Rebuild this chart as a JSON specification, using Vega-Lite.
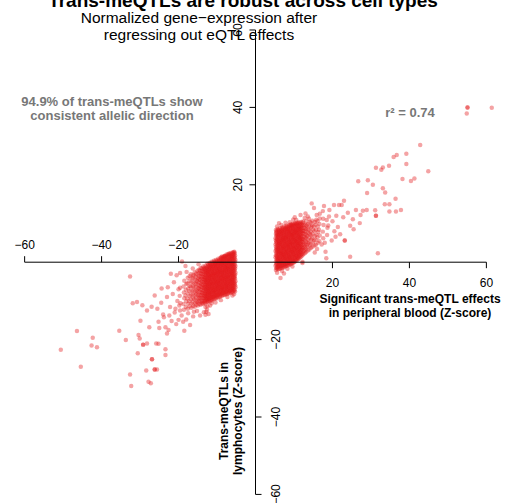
{
  "$schema": "https://vega.github.io/schema/vega-lite/v6.json",
  "width": 505,
  "height": 503,
  "padding": 0,
  "autosize": {"type": "none"},
  "background": "white",
  "config": {"view": {"stroke": null}, "text": {"font": "Liberation Sans", "color": "black"}},
  "datasets": {
    "meqtl": [
      {"pb":5.3,"ly":-2.0},{"pb":5.4,"ly":-1.5},{"pb":5.2,"ly":-0.9},{"pb":5.4,"ly":-0.4},{"pb":5.3,"ly":0.2},{"pb":5.5,"ly":0.7},{"pb":5.2,"ly":1.3},{"pb":5.3,"ly":1.8},{"pb":5.4,"ly":2.4},{"pb":5.2,"ly":2.9},{"pb":5.4,"ly":3.5},{"pb":5.3,"ly":4.0},{"pb":5.2,"ly":4.6},{"pb":5.4,"ly":5.1},{"pb":5.3,"ly":5.7},{"pb":5.2,"ly":6.2},{"pb":5.4,"ly":6.8},{"pb":5.3,"ly":7.3},{"pb":5.4,"ly":7.9},{"pb":5.3,"ly":8.3},
      {"pb":5.9,"ly":-1.8},{"pb":5.8,"ly":-1.2},{"pb":5.9,"ly":-0.7},{"pb":6.0,"ly":-0.1},{"pb":5.8,"ly":0.4},{"pb":5.9,"ly":1.0},{"pb":5.7,"ly":1.5},{"pb":5.9,"ly":2.1},{"pb":6.0,"ly":2.6},{"pb":5.8,"ly":3.2},{"pb":5.9,"ly":3.7},{"pb":5.8,"ly":4.3},{"pb":6.0,"ly":4.8},{"pb":5.9,"ly":5.4},{"pb":5.7,"ly":5.9},{"pb":5.9,"ly":6.5},{"pb":5.8,"ly":7.0},{"pb":6.0,"ly":7.6},{"pb":5.9,"ly":8.1},{"pb":5.8,"ly":8.6},
      {"pb":6.4,"ly":-1.7},{"pb":6.5,"ly":-1.1},{"pb":6.3,"ly":-0.6},{"pb":6.4,"ly":0.0},{"pb":6.5,"ly":0.5},{"pb":6.3,"ly":1.1},{"pb":6.4,"ly":1.6},{"pb":6.6,"ly":2.2},{"pb":6.4,"ly":2.7},{"pb":6.3,"ly":3.3},{"pb":6.5,"ly":3.8},{"pb":6.4,"ly":4.4},{"pb":6.3,"ly":4.9},{"pb":6.5,"ly":5.5},{"pb":6.4,"ly":6.0},{"pb":6.6,"ly":6.6},{"pb":6.3,"ly":7.1},{"pb":6.4,"ly":7.7},{"pb":6.5,"ly":8.2},{"pb":6.4,"ly":8.8},
      {"pb":7.0,"ly":-1.5},{"pb":6.9,"ly":-0.9},{"pb":7.0,"ly":-0.4},{"pb":6.8,"ly":0.2},{"pb":7.0,"ly":0.7},{"pb":7.1,"ly":1.3},{"pb":6.9,"ly":1.8},{"pb":7.0,"ly":2.4},{"pb":6.8,"ly":2.9},{"pb":7.0,"ly":3.5},{"pb":7.1,"ly":4.0},{"pb":6.9,"ly":4.6},{"pb":7.0,"ly":5.1},{"pb":6.9,"ly":5.7},{"pb":7.1,"ly":6.2},{"pb":7.0,"ly":6.8},{"pb":6.8,"ly":7.3},{"pb":7.0,"ly":7.9},{"pb":6.9,"ly":8.4},{"pb":7.0,"ly":9.0},
      {"pb":7.5,"ly":-1.3},{"pb":7.6,"ly":-0.7},{"pb":7.4,"ly":-0.2},{"pb":7.5,"ly":0.4},{"pb":7.6,"ly":0.9},{"pb":7.5,"ly":1.5},{"pb":7.4,"ly":2.0},{"pb":7.6,"ly":2.6},{"pb":7.5,"ly":3.1},{"pb":7.4,"ly":3.7},{"pb":7.5,"ly":4.2},{"pb":7.6,"ly":4.8},{"pb":7.5,"ly":5.3},{"pb":7.4,"ly":5.9},{"pb":7.6,"ly":6.4},{"pb":7.5,"ly":7.0},{"pb":7.4,"ly":7.5},{"pb":7.5,"ly":8.1},{"pb":7.6,"ly":8.6},{"pb":7.5,"ly":9.2},
      {"pb":8.0,"ly":-1.0},{"pb":8.1,"ly":-0.4},{"pb":8.0,"ly":0.1},{"pb":8.2,"ly":0.7},{"pb":8.0,"ly":1.2},{"pb":8.1,"ly":1.8},{"pb":7.9,"ly":2.3},{"pb":8.1,"ly":2.9},{"pb":8.0,"ly":3.4},{"pb":8.2,"ly":4.0},{"pb":8.0,"ly":4.5},{"pb":8.1,"ly":5.1},{"pb":8.0,"ly":5.6},{"pb":7.9,"ly":6.2},{"pb":8.1,"ly":6.7},{"pb":8.0,"ly":7.3},{"pb":8.2,"ly":7.8},{"pb":8.0,"ly":8.4},{"pb":8.1,"ly":8.9},{"pb":8.0,"ly":9.4},
      {"pb":8.6,"ly":-0.8},{"pb":8.7,"ly":-0.2},{"pb":8.5,"ly":0.3},{"pb":8.6,"ly":0.9},{"pb":8.7,"ly":1.4},{"pb":8.6,"ly":2.0},{"pb":8.5,"ly":2.5},{"pb":8.7,"ly":3.1},{"pb":8.6,"ly":3.6},{"pb":8.5,"ly":4.2},{"pb":8.6,"ly":4.7},{"pb":8.7,"ly":5.3},{"pb":8.6,"ly":5.8},{"pb":8.5,"ly":6.4},{"pb":8.6,"ly":6.9},{"pb":8.7,"ly":7.5},{"pb":8.6,"ly":8.0},{"pb":8.5,"ly":8.6},{"pb":8.6,"ly":9.1},{"pb":8.7,"ly":9.6},
      {"pb":9.2,"ly":-0.5},{"pb":9.1,"ly":0.1},{"pb":9.2,"ly":0.6},{"pb":9.0,"ly":1.2},{"pb":9.2,"ly":1.7},{"pb":9.1,"ly":2.3},{"pb":9.3,"ly":2.8},{"pb":9.1,"ly":3.4},{"pb":9.2,"ly":3.9},{"pb":9.0,"ly":4.5},{"pb":9.2,"ly":5.0},{"pb":9.1,"ly":5.6},{"pb":9.2,"ly":6.1},{"pb":9.3,"ly":6.7},{"pb":9.1,"ly":7.2},{"pb":9.2,"ly":7.8},{"pb":9.0,"ly":8.3},{"pb":9.2,"ly":8.9},{"pb":9.1,"ly":9.4},{"pb":9.2,"ly":9.8},
      {"pb":9.7,"ly":-0.2},{"pb":9.8,"ly":0.4},{"pb":9.6,"ly":0.9},{"pb":9.7,"ly":1.5},{"pb":9.8,"ly":2.0},{"pb":9.7,"ly":2.6},{"pb":9.6,"ly":3.1},{"pb":9.8,"ly":3.7},{"pb":9.7,"ly":4.2},{"pb":9.6,"ly":4.8},{"pb":9.7,"ly":5.3},{"pb":9.8,"ly":5.9},{"pb":9.7,"ly":6.4},{"pb":9.6,"ly":7.0},{"pb":9.7,"ly":7.5},{"pb":9.8,"ly":8.1},{"pb":9.7,"ly":8.6},{"pb":9.6,"ly":9.2},{"pb":9.7,"ly":9.7},{"pb":9.8,"ly":10.0},
      {"pb":10.2,"ly":0.1},{"pb":10.3,"ly":0.7},{"pb":10.2,"ly":1.2},{"pb":10.4,"ly":1.8},{"pb":10.2,"ly":2.3},{"pb":10.3,"ly":2.9},{"pb":10.1,"ly":3.4},{"pb":10.3,"ly":4.0},{"pb":10.2,"ly":4.5},{"pb":10.4,"ly":5.1},{"pb":10.2,"ly":5.6},{"pb":10.3,"ly":6.2},{"pb":10.2,"ly":6.7},{"pb":10.1,"ly":7.3},{"pb":10.3,"ly":7.8},{"pb":10.2,"ly":8.4},{"pb":10.4,"ly":8.9},{"pb":10.2,"ly":9.5},{"pb":10.3,"ly":10.1},
      {"pb":10.8,"ly":0.5},{"pb":10.9,"ly":1.0},{"pb":10.7,"ly":1.6},{"pb":10.8,"ly":2.1},{"pb":10.9,"ly":2.7},{"pb":10.8,"ly":3.2},{"pb":10.7,"ly":3.8},{"pb":10.9,"ly":4.3},{"pb":10.8,"ly":4.9},{"pb":10.7,"ly":5.4},{"pb":10.8,"ly":6.0},{"pb":10.9,"ly":6.5},{"pb":10.8,"ly":7.1},{"pb":10.7,"ly":7.6},{"pb":10.8,"ly":8.2},{"pb":10.9,"ly":8.7},{"pb":10.8,"ly":9.3},{"pb":10.7,"ly":9.8},{"pb":10.8,"ly":10.2},
      {"pb":11.3,"ly":1.0},{"pb":11.4,"ly":1.6},{"pb":11.3,"ly":2.1},{"pb":11.5,"ly":2.7},{"pb":11.3,"ly":3.2},{"pb":11.4,"ly":3.8},{"pb":11.2,"ly":4.3},{"pb":11.4,"ly":4.9},{"pb":11.3,"ly":5.4},{"pb":11.5,"ly":6.0},{"pb":11.3,"ly":6.5},{"pb":11.4,"ly":7.1},{"pb":11.3,"ly":7.6},{"pb":11.2,"ly":8.2},{"pb":11.4,"ly":8.7},{"pb":11.3,"ly":9.3},{"pb":11.5,"ly":9.8},{"pb":11.3,"ly":10.3},
      {"pb":11.9,"ly":1.5},{"pb":12.0,"ly":2.1},{"pb":11.8,"ly":2.6},{"pb":11.9,"ly":3.2},{"pb":12.0,"ly":3.7},{"pb":11.9,"ly":4.3},{"pb":11.8,"ly":4.8},{"pb":12.0,"ly":5.4},{"pb":11.9,"ly":5.9},{"pb":11.8,"ly":6.5},{"pb":11.9,"ly":7.0},{"pb":12.0,"ly":7.6},{"pb":11.9,"ly":8.1},{"pb":11.8,"ly":8.7},{"pb":11.9,"ly":9.2},{"pb":12.0,"ly":9.8},{"pb":11.9,"ly":10.4},
      {"pb":12.5,"ly":2.1},{"pb":12.6,"ly":2.9},{"pb":12.4,"ly":3.6},{"pb":12.6,"ly":4.4},{"pb":12.5,"ly":5.1},{"pb":12.4,"ly":5.9},{"pb":12.6,"ly":6.6},{"pb":12.5,"ly":7.4},{"pb":12.4,"ly":8.1},{"pb":12.6,"ly":8.9},{"pb":12.5,"ly":9.6},{"pb":12.4,"ly":10.5},
      {"pb":13.2,"ly":2.7},{"pb":13.1,"ly":3.5},{"pb":13.3,"ly":4.4},{"pb":13.2,"ly":5.2},{"pb":13.1,"ly":6.1},{"pb":13.3,"ly":6.9},{"pb":13.2,"ly":7.8},{"pb":13.1,"ly":8.6},{"pb":13.3,"ly":9.5},{"pb":13.2,"ly":10.6},
      {"pb":14.0,"ly":3.3},{"pb":14.1,"ly":4.3},{"pb":13.9,"ly":5.3},{"pb":14.0,"ly":6.3},{"pb":14.1,"ly":7.3},{"pb":13.9,"ly":8.3},{"pb":14.0,"ly":9.3},{"pb":14.1,"ly":10.4},{"pb":13.9,"ly":11.2},
      {"pb":14.8,"ly":4.0},{"pb":14.9,"ly":5.1},{"pb":14.7,"ly":6.2},{"pb":14.8,"ly":7.3},{"pb":14.9,"ly":8.4},{"pb":14.7,"ly":9.5},{"pb":14.8,"ly":10.7},
      {"pb":15.7,"ly":4.5},{"pb":15.6,"ly":5.8},{"pb":15.8,"ly":7.1},{"pb":15.7,"ly":8.4},{"pb":15.6,"ly":9.7},{"pb":15.8,"ly":11.0},
      {"pb":16.6,"ly":5.4},{"pb":16.7,"ly":6.9},{"pb":16.5,"ly":8.4},{"pb":16.6,"ly":9.9},{"pb":16.7,"ly":11.3},
      {"pb":17.6,"ly":6.2},{"pb":17.5,"ly":7.9},{"pb":17.7,"ly":9.6},{"pb":17.6,"ly":11.2},
      {"pb":18.6,"ly":7.0},{"pb":18.7,"ly":8.9},{"pb":18.5,"ly":10.9},
      {"pb":5.6,"ly":-1.7},{"pb":5.7,"ly":-1.2},{"pb":5.5,"ly":-0.6},{"pb":5.6,"ly":-0.1},{"pb":5.7,"ly":0.5},{"pb":5.6,"ly":1.0},{"pb":5.5,"ly":1.6},{"pb":5.7,"ly":2.1},{"pb":5.6,"ly":2.7},{"pb":5.5,"ly":3.2},{"pb":5.6,"ly":3.8},{"pb":5.7,"ly":4.3},{"pb":5.6,"ly":4.9},{"pb":5.5,"ly":5.4},{"pb":5.6,"ly":6.0},{"pb":5.7,"ly":6.5},{"pb":5.6,"ly":7.1},{"pb":5.5,"ly":7.6},{"pb":5.6,"ly":8.2},
      {"pb":6.1,"ly":-1.6},{"pb":6.2,"ly":-1.0},{"pb":6.1,"ly":-0.5},{"pb":6.2,"ly":0.1},{"pb":6.0,"ly":0.6},{"pb":6.2,"ly":1.2},{"pb":6.1,"ly":1.7},{"pb":6.2,"ly":2.3},{"pb":6.1,"ly":2.8},{"pb":6.0,"ly":3.4},{"pb":6.2,"ly":3.9},{"pb":6.1,"ly":4.5},{"pb":6.2,"ly":5.0},{"pb":6.1,"ly":5.6},{"pb":6.2,"ly":6.1},{"pb":6.0,"ly":6.7},{"pb":6.1,"ly":7.2},{"pb":6.2,"ly":7.8},{"pb":6.1,"ly":8.3},
      {"pb":6.7,"ly":-1.4},{"pb":6.6,"ly":-0.8},{"pb":6.8,"ly":-0.3},{"pb":6.7,"ly":0.3},{"pb":6.6,"ly":0.8},{"pb":6.7,"ly":1.4},{"pb":6.8,"ly":1.9},{"pb":6.7,"ly":2.5},{"pb":6.6,"ly":3.0},{"pb":6.7,"ly":3.6},{"pb":6.8,"ly":4.1},{"pb":6.7,"ly":4.7},{"pb":6.6,"ly":5.2},{"pb":6.7,"ly":5.8},{"pb":6.8,"ly":6.3},{"pb":6.7,"ly":6.9},{"pb":6.6,"ly":7.4},{"pb":6.7,"ly":8.0},{"pb":6.8,"ly":8.6},
      {"pb":7.2,"ly":-1.2},{"pb":7.3,"ly":-0.6},{"pb":7.2,"ly":-0.1},{"pb":7.3,"ly":0.5},{"pb":7.2,"ly":1.0},{"pb":7.3,"ly":1.6},{"pb":7.2,"ly":2.1},{"pb":7.3,"ly":2.7},{"pb":7.2,"ly":3.2},{"pb":7.3,"ly":3.8},{"pb":7.2,"ly":4.3},{"pb":7.3,"ly":4.9},{"pb":7.2,"ly":5.4},{"pb":7.3,"ly":6.0},{"pb":7.2,"ly":6.5},{"pb":7.3,"ly":7.1},{"pb":7.2,"ly":7.6},{"pb":7.3,"ly":8.2},{"pb":7.2,"ly":8.8},
      {"pb":7.8,"ly":-1.0},{"pb":7.7,"ly":-0.4},{"pb":7.9,"ly":0.1},{"pb":7.8,"ly":0.7},{"pb":7.7,"ly":1.2},{"pb":7.8,"ly":1.8},{"pb":7.9,"ly":2.3},{"pb":7.8,"ly":2.9},{"pb":7.7,"ly":3.4},{"pb":7.8,"ly":4.0},{"pb":7.9,"ly":4.5},{"pb":7.8,"ly":5.1},{"pb":7.7,"ly":5.6},{"pb":7.8,"ly":6.2},{"pb":7.9,"ly":6.7},{"pb":7.8,"ly":7.3},{"pb":7.7,"ly":7.8},{"pb":7.8,"ly":8.4},{"pb":7.9,"ly":9.0},
      {"pb":8.3,"ly":-0.8},{"pb":8.4,"ly":-0.2},{"pb":8.3,"ly":0.3},{"pb":8.4,"ly":0.9},{"pb":8.3,"ly":1.4},{"pb":8.4,"ly":2.0},{"pb":8.3,"ly":2.5},{"pb":8.4,"ly":3.1},{"pb":8.3,"ly":3.6},{"pb":8.4,"ly":4.2},{"pb":8.3,"ly":4.7},{"pb":8.4,"ly":5.3},{"pb":8.3,"ly":5.8},{"pb":8.4,"ly":6.4},{"pb":8.3,"ly":6.9},{"pb":8.4,"ly":7.5},{"pb":8.3,"ly":8.0},{"pb":8.4,"ly":8.6},{"pb":8.3,"ly":9.2},
      {"pb":8.9,"ly":-0.6},{"pb":8.8,"ly":0.0},{"pb":9.0,"ly":0.5},{"pb":8.9,"ly":1.1},{"pb":8.8,"ly":1.6},{"pb":8.9,"ly":2.2},{"pb":9.0,"ly":2.7},{"pb":8.9,"ly":3.3},{"pb":8.8,"ly":3.8},{"pb":8.9,"ly":4.4},{"pb":9.0,"ly":4.9},{"pb":8.9,"ly":5.5},{"pb":8.8,"ly":6.0},{"pb":8.9,"ly":6.6},{"pb":9.0,"ly":7.1},{"pb":8.9,"ly":7.7},{"pb":8.8,"ly":8.2},{"pb":8.9,"ly":8.8},{"pb":9.0,"ly":9.4},
      {"pb":9.4,"ly":-0.3},{"pb":9.5,"ly":0.3},{"pb":9.4,"ly":0.8},{"pb":9.5,"ly":1.4},{"pb":9.4,"ly":1.9},{"pb":9.5,"ly":2.5},{"pb":9.4,"ly":3.0},{"pb":9.5,"ly":3.6},{"pb":9.4,"ly":4.1},{"pb":9.5,"ly":4.7},{"pb":9.4,"ly":5.2},{"pb":9.5,"ly":5.8},{"pb":9.4,"ly":6.3},{"pb":9.5,"ly":6.9},{"pb":9.4,"ly":7.4},{"pb":9.5,"ly":8.0},{"pb":9.4,"ly":8.5},{"pb":9.5,"ly":9.1},{"pb":9.4,"ly":9.6},
      {"pb":10.0,"ly":0.0},{"pb":9.9,"ly":0.6},{"pb":10.1,"ly":1.1},{"pb":10.0,"ly":1.7},{"pb":9.9,"ly":2.2},{"pb":10.0,"ly":2.8},{"pb":10.1,"ly":3.3},{"pb":10.0,"ly":3.9},{"pb":9.9,"ly":4.4},{"pb":10.0,"ly":5.0},{"pb":10.1,"ly":5.5},{"pb":10.0,"ly":6.1},{"pb":9.9,"ly":6.6},{"pb":10.0,"ly":7.2},{"pb":10.1,"ly":7.7},{"pb":10.0,"ly":8.3},{"pb":9.9,"ly":8.8},{"pb":10.0,"ly":9.4},{"pb":10.1,"ly":9.9},
      {"pb":10.5,"ly":0.4},{"pb":10.6,"ly":0.9},{"pb":10.5,"ly":1.5},{"pb":10.6,"ly":2.0},{"pb":10.5,"ly":2.6},{"pb":10.6,"ly":3.1},{"pb":10.5,"ly":3.7},{"pb":10.6,"ly":4.2},{"pb":10.5,"ly":4.8},{"pb":10.6,"ly":5.3},{"pb":10.5,"ly":5.9},{"pb":10.6,"ly":6.4},{"pb":10.5,"ly":7.0},{"pb":10.6,"ly":7.5},{"pb":10.5,"ly":8.1},{"pb":10.6,"ly":8.6},{"pb":10.5,"ly":9.2},{"pb":10.6,"ly":9.8},
      {"pb":11.1,"ly":0.8},{"pb":11.0,"ly":1.3},{"pb":11.2,"ly":1.9},{"pb":11.1,"ly":2.4},{"pb":11.0,"ly":3.0},{"pb":11.1,"ly":3.5},{"pb":11.2,"ly":4.1},{"pb":11.1,"ly":4.6},{"pb":11.0,"ly":5.2},{"pb":11.1,"ly":5.7},{"pb":11.2,"ly":6.3},{"pb":11.1,"ly":6.8},{"pb":11.0,"ly":7.4},{"pb":11.1,"ly":7.9},{"pb":11.2,"ly":8.5},{"pb":11.1,"ly":9.0},{"pb":11.0,"ly":9.6},{"pb":11.1,"ly":10.1},
      {"pb":11.6,"ly":1.3},{"pb":11.7,"ly":1.8},{"pb":11.6,"ly":2.4},{"pb":11.7,"ly":2.9},{"pb":11.6,"ly":3.5},{"pb":11.7,"ly":4.0},{"pb":11.6,"ly":4.6},{"pb":11.7,"ly":5.1},{"pb":11.6,"ly":5.7},{"pb":11.7,"ly":6.2},{"pb":11.6,"ly":6.8},{"pb":11.7,"ly":7.3},{"pb":11.6,"ly":7.9},{"pb":11.7,"ly":8.4},{"pb":11.6,"ly":9.0},{"pb":11.7,"ly":9.5},{"pb":11.6,"ly":10.1},
      {"pb":12.2,"ly":1.8},{"pb":12.3,"ly":2.5},{"pb":12.1,"ly":3.2},{"pb":12.2,"ly":3.9},{"pb":12.3,"ly":4.6},{"pb":12.2,"ly":5.3},{"pb":12.1,"ly":6.0},{"pb":12.2,"ly":6.7},{"pb":12.3,"ly":7.4},{"pb":12.2,"ly":8.1},{"pb":12.1,"ly":8.8},{"pb":12.2,"ly":9.5},{"pb":12.3,"ly":10.2},
      {"pb":12.9,"ly":2.4},{"pb":12.8,"ly":3.2},{"pb":12.9,"ly":4.0},{"pb":13.0,"ly":4.8},{"pb":12.8,"ly":5.6},{"pb":12.9,"ly":6.4},{"pb":13.0,"ly":7.2},{"pb":12.8,"ly":8.0},{"pb":12.9,"ly":8.8},{"pb":13.0,"ly":9.7},
      {"pb":13.6,"ly":3.0},{"pb":13.5,"ly":4.0},{"pb":13.7,"ly":4.9},{"pb":13.6,"ly":5.8},{"pb":13.5,"ly":6.8},{"pb":13.7,"ly":7.7},{"pb":13.6,"ly":8.7},{"pb":13.5,"ly":9.8},
      {"pb":14.4,"ly":3.7},{"pb":14.3,"ly":4.8},{"pb":14.5,"ly":5.9},{"pb":14.4,"ly":7.0},{"pb":14.3,"ly":8.0},{"pb":14.5,"ly":9.1},{"pb":14.4,"ly":10.2},
      {"pb":15.3,"ly":4.3},{"pb":15.2,"ly":5.6},{"pb":15.4,"ly":6.8},{"pb":15.3,"ly":8.0},{"pb":15.2,"ly":9.2},{"pb":15.4,"ly":10.4},
      {"pb":16.2,"ly":5.0},{"pb":16.1,"ly":6.4},{"pb":16.3,"ly":7.8},{"pb":16.2,"ly":9.2},{"pb":16.1,"ly":10.6},
      {"pb":5.6,"ly":9.2},{"pb":6.1,"ly":10.1},{"pb":7.8,"ly":10.2},{"pb":6.7,"ly":9.6},{"pb":8.9,"ly":10.3},{"pb":10.6,"ly":10.9},{"pb":11.7,"ly":12.2},{"pb":9.8,"ly":11.0},{"pb":12.8,"ly":11.4},{"pb":13.6,"ly":11.8},
      {"pb":14.6,"ly":15.2},{"pb":15.2,"ly":14.0},{"pb":16.7,"ly":12.5},{"pb":19.1,"ly":11.8},{"pb":20.4,"ly":14.8},{"pb":21.7,"ly":14.8},{"pb":23.0,"ly":15.9},{"pb":22.4,"ly":14.8},{"pb":19.2,"ly":13.5},{"pb":17.5,"ly":13.2},
      {"pb":18.9,"ly":9.5},{"pb":20.0,"ly":10.6},{"pb":21.0,"ly":12.0},{"pb":22.8,"ly":11.6},{"pb":21.4,"ly":9.1},{"pb":19.8,"ly":5.6},{"pb":23.2,"ly":5.6},{"pb":23.2,"ly":5.6},{"pb":18.2,"ly":2.7},{"pb":18.4,"ly":1.0},
      {"pb":24.6,"ly":1.4},{"pb":31.8,"ly":2.3},{"pb":12.2,"ly":-0.2},{"pb":12.2,"ly":0.1},{"pb":6.5,"ly":-4.1},{"pb":5.6,"ly":-2.7},{"pb":6.9,"ly":-2.3},{"pb":8.3,"ly":-1.7},{"pb":7.4,"ly":-2.9},{"pb":9.6,"ly":-1.1},
      {"pb":16.0,"ly":3.4},{"pb":17.2,"ly":4.6},{"pb":15.4,"ly":2.5},{"pb":24.6,"ly":9.4},{"pb":25.3,"ly":11.1},{"pb":26.1,"ly":13.5},{"pb":27.1,"ly":10.1},{"pb":27.3,"ly":12.2},{"pb":27.9,"ly":13.3},{"pb":28.9,"ly":13.5},
      {"pb":31.1,"ly":13.4},{"pb":31.3,"ly":12.0},{"pb":31.3,"ly":12.0},{"pb":26.7,"ly":20.9},{"pb":29.2,"ly":21.2},{"pb":30.5,"ly":20.0},{"pb":29.0,"ly":17.9},{"pb":33.1,"ly":19.1},{"pb":33.7,"ly":18.0},{"pb":36.4,"ly":16.4},
      {"pb":33.6,"ly":15.0},{"pb":34.8,"ly":15.0},{"pb":36.5,"ly":13.1},{"pb":37.8,"ly":13.5},{"pb":34.8,"ly":13.1},{"pb":31.3,"ly":24.4},{"pb":32.7,"ly":23.9},{"pb":33.1,"ly":24.5},{"pb":34.7,"ly":24.9},{"pb":35.9,"ly":27.2},
      {"pb":36.7,"ly":27.7},{"pb":39.2,"ly":28.0},{"pb":42.8,"ly":30.3},{"pb":39.2,"ly":25.4},{"pb":44.9,"ly":23.5},{"pb":38.2,"ly":21.5},{"pb":40.4,"ly":21.0},{"pb":41.3,"ly":21.6},{"pb":55.1,"ly":40.0},{"pb":55.1,"ly":40.0},
      {"pb":54.9,"ly":38.4},{"pb":61.4,"ly":39.9},{"pb":20.5,"ly":8.0},{"pb":22.0,"ly":7.2},{"pb":17.8,"ly":14.5},{"pb":24.0,"ly":12.8},{"pb":25.5,"ly":8.5},{"pb":13.0,"ly":12.6},{"pb":15.9,"ly":12.2},{"pb":10.2,"ly":11.6},
      {"pb":18.0,"ly":5.0},{"pb":20.8,"ly":6.6},

      {"pb":-5.3,"ly":-7.6},{"pb":-5.4,"ly":-7.1},{"pb":-5.2,"ly":-6.5},{"pb":-5.3,"ly":-6.0},{"pb":-5.4,"ly":-5.4},{"pb":-5.2,"ly":-4.9},{"pb":-5.3,"ly":-4.3},{"pb":-5.4,"ly":-3.8},{"pb":-5.3,"ly":-3.2},{"pb":-5.2,"ly":-2.7},{"pb":-5.4,"ly":-2.1},{"pb":-5.3,"ly":-1.6},{"pb":-5.2,"ly":-1.0},{"pb":-5.4,"ly":-0.5},{"pb":-5.3,"ly":0.1},{"pb":-5.2,"ly":0.6},{"pb":-5.4,"ly":1.2},{"pb":-5.3,"ly":1.7},{"pb":-5.4,"ly":2.3},{"pb":-5.5,"ly":2.7},
      {"pb":-5.9,"ly":-7.8},{"pb":-5.8,"ly":-7.2},{"pb":-6.0,"ly":-6.7},{"pb":-5.9,"ly":-6.1},{"pb":-5.8,"ly":-5.6},{"pb":-5.9,"ly":-5.0},{"pb":-6.0,"ly":-4.5},{"pb":-5.8,"ly":-3.9},{"pb":-5.9,"ly":-3.4},{"pb":-6.0,"ly":-2.8},{"pb":-5.8,"ly":-2.3},{"pb":-5.9,"ly":-1.7},{"pb":-5.8,"ly":-1.2},{"pb":-6.0,"ly":-0.6},{"pb":-5.9,"ly":-0.1},{"pb":-5.8,"ly":0.5},{"pb":-6.0,"ly":1.0},{"pb":-5.9,"ly":1.6},{"pb":-5.8,"ly":2.1},{"pb":-5.9,"ly":2.6},
      {"pb":-6.4,"ly":-7.9},{"pb":-6.5,"ly":-7.4},{"pb":-6.3,"ly":-6.8},{"pb":-6.4,"ly":-6.3},{"pb":-6.5,"ly":-5.7},{"pb":-6.4,"ly":-5.2},{"pb":-6.3,"ly":-4.6},{"pb":-6.5,"ly":-4.1},{"pb":-6.4,"ly":-3.5},{"pb":-6.3,"ly":-3.0},{"pb":-6.4,"ly":-2.4},{"pb":-6.5,"ly":-1.9},{"pb":-6.4,"ly":-1.3},{"pb":-6.3,"ly":-0.8},{"pb":-6.4,"ly":-0.2},{"pb":-6.5,"ly":0.3},{"pb":-6.4,"ly":0.9},{"pb":-6.3,"ly":1.4},{"pb":-6.4,"ly":2.0},{"pb":-6.5,"ly":2.4},
      {"pb":-7.0,"ly":-8.1},{"pb":-6.9,"ly":-7.5},{"pb":-7.0,"ly":-7.0},{"pb":-7.1,"ly":-6.4},{"pb":-6.9,"ly":-5.9},{"pb":-7.0,"ly":-5.3},{"pb":-6.8,"ly":-4.8},{"pb":-7.0,"ly":-4.2},{"pb":-7.1,"ly":-3.7},{"pb":-6.9,"ly":-3.1},{"pb":-7.0,"ly":-2.6},{"pb":-6.9,"ly":-2.0},{"pb":-7.1,"ly":-1.5},{"pb":-7.0,"ly":-0.9},{"pb":-6.9,"ly":-0.4},{"pb":-7.0,"ly":0.2},{"pb":-6.8,"ly":0.7},{"pb":-7.0,"ly":1.3},{"pb":-6.9,"ly":1.8},{"pb":-7.0,"ly":2.2},
      {"pb":-7.5,"ly":-8.3},{"pb":-7.6,"ly":-7.7},{"pb":-7.4,"ly":-7.2},{"pb":-7.5,"ly":-6.6},{"pb":-7.6,"ly":-6.1},{"pb":-7.5,"ly":-5.5},{"pb":-7.4,"ly":-5.0},{"pb":-7.6,"ly":-4.4},{"pb":-7.5,"ly":-3.9},{"pb":-7.4,"ly":-3.3},{"pb":-7.5,"ly":-2.8},{"pb":-7.6,"ly":-2.2},{"pb":-7.5,"ly":-1.7},{"pb":-7.4,"ly":-1.1},{"pb":-7.6,"ly":-0.6},{"pb":-7.5,"ly":0.0},{"pb":-7.4,"ly":0.5},{"pb":-7.5,"ly":1.1},{"pb":-7.6,"ly":1.6},{"pb":-7.5,"ly":2.0},
      {"pb":-8.0,"ly":-8.5},{"pb":-8.1,"ly":-7.9},{"pb":-8.0,"ly":-7.4},{"pb":-8.2,"ly":-6.8},{"pb":-8.0,"ly":-6.3},{"pb":-8.1,"ly":-5.7},{"pb":-7.9,"ly":-5.2},{"pb":-8.1,"ly":-4.6},{"pb":-8.0,"ly":-4.1},{"pb":-8.2,"ly":-3.5},{"pb":-8.0,"ly":-3.0},{"pb":-8.1,"ly":-2.4},{"pb":-8.0,"ly":-1.9},{"pb":-7.9,"ly":-1.3},{"pb":-8.1,"ly":-0.8},{"pb":-8.0,"ly":-0.2},{"pb":-8.2,"ly":0.3},{"pb":-8.0,"ly":0.9},{"pb":-8.1,"ly":1.4},{"pb":-8.0,"ly":1.7},
      {"pb":-8.6,"ly":-8.7},{"pb":-8.7,"ly":-8.1},{"pb":-8.5,"ly":-7.6},{"pb":-8.6,"ly":-7.0},{"pb":-8.7,"ly":-6.5},{"pb":-8.6,"ly":-5.9},{"pb":-8.5,"ly":-5.4},{"pb":-8.7,"ly":-4.8},{"pb":-8.6,"ly":-4.3},{"pb":-8.5,"ly":-3.7},{"pb":-8.6,"ly":-3.2},{"pb":-8.7,"ly":-2.6},{"pb":-8.6,"ly":-2.1},{"pb":-8.5,"ly":-1.5},{"pb":-8.6,"ly":-1.0},{"pb":-8.7,"ly":-0.4},{"pb":-8.6,"ly":0.1},{"pb":-8.5,"ly":0.7},{"pb":-8.6,"ly":1.2},{"pb":-8.7,"ly":1.5},
      {"pb":-9.2,"ly":-8.9},{"pb":-9.1,"ly":-8.3},{"pb":-9.2,"ly":-7.8},{"pb":-9.0,"ly":-7.2},{"pb":-9.2,"ly":-6.7},{"pb":-9.1,"ly":-6.1},{"pb":-9.3,"ly":-5.6},{"pb":-9.1,"ly":-5.0},{"pb":-9.2,"ly":-4.5},{"pb":-9.0,"ly":-3.9},{"pb":-9.2,"ly":-3.4},{"pb":-9.1,"ly":-2.8},{"pb":-9.2,"ly":-2.3},{"pb":-9.3,"ly":-1.7},{"pb":-9.1,"ly":-1.2},{"pb":-9.2,"ly":-0.6},{"pb":-9.0,"ly":-0.1},{"pb":-9.2,"ly":0.5},{"pb":-9.1,"ly":1.1},
      {"pb":-9.7,"ly":-9.1},{"pb":-9.8,"ly":-8.5},{"pb":-9.6,"ly":-8.0},{"pb":-9.7,"ly":-7.4},{"pb":-9.8,"ly":-6.9},{"pb":-9.7,"ly":-6.3},{"pb":-9.6,"ly":-5.8},{"pb":-9.8,"ly":-5.2},{"pb":-9.7,"ly":-4.7},{"pb":-9.6,"ly":-4.1},{"pb":-9.7,"ly":-3.6},{"pb":-9.8,"ly":-3.0},{"pb":-9.7,"ly":-2.5},{"pb":-9.6,"ly":-1.9},{"pb":-9.7,"ly":-1.4},{"pb":-9.8,"ly":-0.8},{"pb":-9.7,"ly":-0.3},{"pb":-9.6,"ly":0.3},{"pb":-9.7,"ly":0.9},
      {"pb":-10.2,"ly":-9.4},{"pb":-10.3,"ly":-8.8},{"pb":-10.2,"ly":-8.3},{"pb":-10.4,"ly":-7.7},{"pb":-10.2,"ly":-7.2},{"pb":-10.3,"ly":-6.6},{"pb":-10.1,"ly":-6.1},{"pb":-10.3,"ly":-5.5},{"pb":-10.2,"ly":-5.0},{"pb":-10.4,"ly":-4.4},{"pb":-10.2,"ly":-3.9},{"pb":-10.3,"ly":-3.3},{"pb":-10.2,"ly":-2.8},{"pb":-10.1,"ly":-2.2},{"pb":-10.3,"ly":-1.7},{"pb":-10.2,"ly":-1.1},{"pb":-10.4,"ly":-0.6},{"pb":-10.2,"ly":0.0},{"pb":-10.3,"ly":0.6},
      {"pb":-10.8,"ly":-9.6},{"pb":-10.9,"ly":-9.0},{"pb":-10.7,"ly":-8.5},{"pb":-10.8,"ly":-7.9},{"pb":-10.9,"ly":-7.4},{"pb":-10.8,"ly":-6.8},{"pb":-10.7,"ly":-6.3},{"pb":-10.9,"ly":-5.7},{"pb":-10.8,"ly":-5.2},{"pb":-10.7,"ly":-4.6},{"pb":-10.8,"ly":-4.1},{"pb":-10.9,"ly":-3.5},{"pb":-10.8,"ly":-3.0},{"pb":-10.7,"ly":-2.4},{"pb":-10.8,"ly":-1.9},{"pb":-10.9,"ly":-1.3},{"pb":-10.8,"ly":-0.8},{"pb":-10.7,"ly":-0.2},{"pb":-10.8,"ly":0.4},
      {"pb":-11.3,"ly":-9.9},{"pb":-11.4,"ly":-9.3},{"pb":-11.3,"ly":-8.8},{"pb":-11.5,"ly":-8.2},{"pb":-11.3,"ly":-7.7},{"pb":-11.4,"ly":-7.1},{"pb":-11.2,"ly":-6.6},{"pb":-11.4,"ly":-6.0},{"pb":-11.3,"ly":-5.5},{"pb":-11.5,"ly":-4.9},{"pb":-11.3,"ly":-4.4},{"pb":-11.4,"ly":-3.8},{"pb":-11.3,"ly":-3.3},{"pb":-11.2,"ly":-2.7},{"pb":-11.4,"ly":-2.2},{"pb":-11.3,"ly":-1.6},{"pb":-11.5,"ly":-1.1},{"pb":-11.3,"ly":-0.5},{"pb":-11.4,"ly":0.1},
      {"pb":-11.9,"ly":-10.1},{"pb":-12.0,"ly":-9.5},{"pb":-11.8,"ly":-9.0},{"pb":-11.9,"ly":-8.4},{"pb":-12.0,"ly":-7.9},{"pb":-11.9,"ly":-7.3},{"pb":-11.8,"ly":-6.8},{"pb":-12.0,"ly":-6.2},{"pb":-11.9,"ly":-5.7},{"pb":-11.8,"ly":-5.1},{"pb":-11.9,"ly":-4.6},{"pb":-12.0,"ly":-4.0},{"pb":-11.9,"ly":-3.5},{"pb":-11.8,"ly":-2.9},{"pb":-11.9,"ly":-2.4},{"pb":-12.0,"ly":-1.8},{"pb":-11.9,"ly":-1.3},{"pb":-11.8,"ly":-0.7},{"pb":-11.9,"ly":-0.2},
      {"pb":-12.4,"ly":-10.3},{"pb":-12.5,"ly":-9.7},{"pb":-12.4,"ly":-9.2},{"pb":-12.6,"ly":-8.6},{"pb":-12.4,"ly":-8.1},{"pb":-12.5,"ly":-7.5},{"pb":-12.3,"ly":-7.0},{"pb":-12.5,"ly":-6.4},{"pb":-12.4,"ly":-5.9},{"pb":-12.6,"ly":-5.3},{"pb":-12.4,"ly":-4.8},{"pb":-12.5,"ly":-4.2},{"pb":-12.4,"ly":-3.7},{"pb":-12.3,"ly":-3.1},{"pb":-12.5,"ly":-2.6},{"pb":-12.4,"ly":-2.0},{"pb":-12.6,"ly":-1.5},{"pb":-12.4,"ly":-0.9},{"pb":-12.5,"ly":-0.4},
      {"pb":-13.0,"ly":-10.6},{"pb":-13.1,"ly":-10.0},{"pb":-12.9,"ly":-9.4},{"pb":-13.0,"ly":-8.8},{"pb":-13.1,"ly":-8.2},{"pb":-13.0,"ly":-7.6},{"pb":-12.9,"ly":-7.0},{"pb":-13.1,"ly":-6.4},{"pb":-13.0,"ly":-5.8},{"pb":-12.9,"ly":-5.2},{"pb":-13.0,"ly":-4.6},{"pb":-13.1,"ly":-4.0},{"pb":-13.0,"ly":-3.4},{"pb":-12.9,"ly":-2.8},{"pb":-13.0,"ly":-2.2},{"pb":-13.1,"ly":-1.6},{"pb":-13.0,"ly":-0.9},
      {"pb":-13.6,"ly":-10.8},{"pb":-13.7,"ly":-10.1},{"pb":-13.5,"ly":-9.4},{"pb":-13.6,"ly":-8.7},{"pb":-13.7,"ly":-8.0},{"pb":-13.6,"ly":-7.3},{"pb":-13.5,"ly":-6.6},{"pb":-13.7,"ly":-5.9},{"pb":-13.6,"ly":-5.2},{"pb":-13.5,"ly":-4.5},{"pb":-13.6,"ly":-3.8},{"pb":-13.7,"ly":-3.1},{"pb":-13.6,"ly":-2.4},{"pb":-13.5,"ly":-1.7},{"pb":-13.6,"ly":-1.1},
      {"pb":-14.3,"ly":-11.0},{"pb":-14.2,"ly":-10.2},{"pb":-14.4,"ly":-9.4},{"pb":-14.3,"ly":-8.6},{"pb":-14.2,"ly":-7.8},{"pb":-14.4,"ly":-7.0},{"pb":-14.3,"ly":-6.2},{"pb":-14.2,"ly":-5.4},{"pb":-14.4,"ly":-4.6},{"pb":-14.3,"ly":-3.8},{"pb":-14.2,"ly":-3.0},{"pb":-14.4,"ly":-2.2},{"pb":-14.3,"ly":-1.5},
      {"pb":-15.0,"ly":-11.2},{"pb":-15.1,"ly":-10.3},{"pb":-14.9,"ly":-9.4},{"pb":-15.0,"ly":-8.5},{"pb":-15.1,"ly":-7.6},{"pb":-14.9,"ly":-6.7},{"pb":-15.0,"ly":-5.8},{"pb":-15.1,"ly":-4.9},{"pb":-14.9,"ly":-4.0},{"pb":-15.0,"ly":-3.1},{"pb":-15.1,"ly":-2.2},
      {"pb":-15.8,"ly":-11.5},{"pb":-15.7,"ly":-10.5},{"pb":-15.9,"ly":-9.5},{"pb":-15.8,"ly":-8.5},{"pb":-15.7,"ly":-7.5},{"pb":-15.9,"ly":-6.5},{"pb":-15.8,"ly":-5.5},{"pb":-15.7,"ly":-4.5},{"pb":-15.9,"ly":-3.5},{"pb":-15.8,"ly":-2.6},
      {"pb":-16.7,"ly":-11.8},{"pb":-16.6,"ly":-10.7},{"pb":-16.8,"ly":-9.6},{"pb":-16.7,"ly":-8.5},{"pb":-16.6,"ly":-7.4},{"pb":-16.8,"ly":-6.3},{"pb":-16.7,"ly":-5.2},{"pb":-16.6,"ly":-4.1},{"pb":-16.8,"ly":-3.1},
      {"pb":-17.6,"ly":-12.0},{"pb":-17.5,"ly":-10.7},{"pb":-17.7,"ly":-9.4},{"pb":-17.6,"ly":-8.1},{"pb":-17.5,"ly":-6.8},{"pb":-17.7,"ly":-5.5},{"pb":-17.6,"ly":-4.0},
      {"pb":-18.6,"ly":-12.3},{"pb":-18.7,"ly":-10.8},{"pb":-18.5,"ly":-9.3},{"pb":-18.6,"ly":-7.8},{"pb":-18.7,"ly":-6.3},{"pb":-18.5,"ly":-4.8},
      {"pb":-19.6,"ly":-12.5},{"pb":-19.5,"ly":-10.6},{"pb":-19.7,"ly":-8.7},{"pb":-19.6,"ly":-6.6},
      {"pb":-5.6,"ly":-7.4},{"pb":-5.7,"ly":-6.8},{"pb":-5.6,"ly":-6.3},{"pb":-5.5,"ly":-5.7},{"pb":-5.6,"ly":-5.2},{"pb":-5.7,"ly":-4.6},{"pb":-5.6,"ly":-4.1},{"pb":-5.5,"ly":-3.5},{"pb":-5.6,"ly":-3.0},{"pb":-5.7,"ly":-2.4},{"pb":-5.6,"ly":-1.9},{"pb":-5.5,"ly":-1.3},{"pb":-5.6,"ly":-0.8},{"pb":-5.7,"ly":-0.2},{"pb":-5.6,"ly":0.3},{"pb":-5.5,"ly":0.9},{"pb":-5.6,"ly":1.4},{"pb":-5.7,"ly":2.0},{"pb":-5.6,"ly":2.5},
      {"pb":-6.1,"ly":-7.6},{"pb":-6.2,"ly":-7.0},{"pb":-6.1,"ly":-6.5},{"pb":-6.2,"ly":-5.9},{"pb":-6.1,"ly":-5.4},{"pb":-6.2,"ly":-4.8},{"pb":-6.1,"ly":-4.3},{"pb":-6.2,"ly":-3.7},{"pb":-6.1,"ly":-3.2},{"pb":-6.2,"ly":-2.6},{"pb":-6.1,"ly":-2.1},{"pb":-6.2,"ly":-1.5},{"pb":-6.1,"ly":-1.0},{"pb":-6.2,"ly":-0.4},{"pb":-6.1,"ly":0.1},{"pb":-6.2,"ly":0.7},{"pb":-6.1,"ly":1.2},{"pb":-6.2,"ly":1.8},{"pb":-6.1,"ly":2.3},
      {"pb":-6.7,"ly":-7.8},{"pb":-6.6,"ly":-7.2},{"pb":-6.8,"ly":-6.7},{"pb":-6.7,"ly":-6.1},{"pb":-6.6,"ly":-5.6},{"pb":-6.7,"ly":-5.0},{"pb":-6.8,"ly":-4.5},{"pb":-6.7,"ly":-3.9},{"pb":-6.6,"ly":-3.4},{"pb":-6.7,"ly":-2.8},{"pb":-6.8,"ly":-2.3},{"pb":-6.7,"ly":-1.7},{"pb":-6.6,"ly":-1.2},{"pb":-6.7,"ly":-0.6},{"pb":-6.8,"ly":-0.1},{"pb":-6.7,"ly":0.5},{"pb":-6.6,"ly":1.0},{"pb":-6.7,"ly":1.6},{"pb":-6.8,"ly":2.1},
      {"pb":-7.2,"ly":-8.0},{"pb":-7.3,"ly":-7.4},{"pb":-7.2,"ly":-6.9},{"pb":-7.3,"ly":-6.3},{"pb":-7.2,"ly":-5.8},{"pb":-7.3,"ly":-5.2},{"pb":-7.2,"ly":-4.7},{"pb":-7.3,"ly":-4.1},{"pb":-7.2,"ly":-3.6},{"pb":-7.3,"ly":-3.0},{"pb":-7.2,"ly":-2.5},{"pb":-7.3,"ly":-1.9},{"pb":-7.2,"ly":-1.4},{"pb":-7.3,"ly":-0.8},{"pb":-7.2,"ly":-0.3},{"pb":-7.3,"ly":0.3},{"pb":-7.2,"ly":0.8},{"pb":-7.3,"ly":1.4},{"pb":-7.2,"ly":1.9},
      {"pb":-7.8,"ly":-8.2},{"pb":-7.7,"ly":-7.6},{"pb":-7.9,"ly":-7.1},{"pb":-7.8,"ly":-6.5},{"pb":-7.7,"ly":-6.0},{"pb":-7.8,"ly":-5.4},{"pb":-7.9,"ly":-4.9},{"pb":-7.8,"ly":-4.3},{"pb":-7.7,"ly":-3.8},{"pb":-7.8,"ly":-3.2},{"pb":-7.9,"ly":-2.7},{"pb":-7.8,"ly":-2.1},{"pb":-7.7,"ly":-1.6},{"pb":-7.8,"ly":-1.0},{"pb":-7.9,"ly":-0.5},{"pb":-7.8,"ly":0.1},{"pb":-7.7,"ly":0.6},{"pb":-7.8,"ly":1.2},{"pb":-7.9,"ly":1.6},
      {"pb":-8.3,"ly":-8.4},{"pb":-8.4,"ly":-7.8},{"pb":-8.3,"ly":-7.3},{"pb":-8.4,"ly":-6.7},{"pb":-8.3,"ly":-6.2},{"pb":-8.4,"ly":-5.6},{"pb":-8.3,"ly":-5.1},{"pb":-8.4,"ly":-4.5},{"pb":-8.3,"ly":-4.0},{"pb":-8.4,"ly":-3.4},{"pb":-8.3,"ly":-2.9},{"pb":-8.4,"ly":-2.3},{"pb":-8.3,"ly":-1.8},{"pb":-8.4,"ly":-1.2},{"pb":-8.3,"ly":-0.7},{"pb":-8.4,"ly":-0.1},{"pb":-8.3,"ly":0.4},{"pb":-8.4,"ly":1.0},{"pb":-8.3,"ly":1.4},
      {"pb":-8.9,"ly":-8.6},{"pb":-8.8,"ly":-8.0},{"pb":-9.0,"ly":-7.5},{"pb":-8.9,"ly":-6.9},{"pb":-8.8,"ly":-6.4},{"pb":-8.9,"ly":-5.8},{"pb":-9.0,"ly":-5.3},{"pb":-8.9,"ly":-4.7},{"pb":-8.8,"ly":-4.2},{"pb":-8.9,"ly":-3.6},{"pb":-9.0,"ly":-3.1},{"pb":-8.9,"ly":-2.5},{"pb":-8.8,"ly":-2.0},{"pb":-8.9,"ly":-1.4},{"pb":-9.0,"ly":-0.9},{"pb":-8.9,"ly":-0.3},{"pb":-8.8,"ly":0.2},{"pb":-8.9,"ly":0.8},{"pb":-9.0,"ly":1.2},
      {"pb":-9.4,"ly":-8.8},{"pb":-9.5,"ly":-8.2},{"pb":-9.4,"ly":-7.7},{"pb":-9.5,"ly":-7.1},{"pb":-9.4,"ly":-6.6},{"pb":-9.5,"ly":-6.0},{"pb":-9.4,"ly":-5.5},{"pb":-9.5,"ly":-4.9},{"pb":-9.4,"ly":-4.4},{"pb":-9.5,"ly":-3.8},{"pb":-9.4,"ly":-3.3},{"pb":-9.5,"ly":-2.7},{"pb":-9.4,"ly":-2.2},{"pb":-9.5,"ly":-1.6},{"pb":-9.4,"ly":-1.1},{"pb":-9.5,"ly":-0.5},{"pb":-9.4,"ly":0.0},{"pb":-9.5,"ly":0.6},
      {"pb":-10.0,"ly":-9.0},{"pb":-9.9,"ly":-8.4},{"pb":-10.1,"ly":-7.9},{"pb":-10.0,"ly":-7.3},{"pb":-9.9,"ly":-6.8},{"pb":-10.0,"ly":-6.2},{"pb":-10.1,"ly":-5.7},{"pb":-10.0,"ly":-5.1},{"pb":-9.9,"ly":-4.6},{"pb":-10.0,"ly":-4.0},{"pb":-10.1,"ly":-3.5},{"pb":-10.0,"ly":-2.9},{"pb":-9.9,"ly":-2.4},{"pb":-10.0,"ly":-1.8},{"pb":-10.1,"ly":-1.3},{"pb":-10.0,"ly":-0.7},{"pb":-9.9,"ly":-0.2},{"pb":-10.0,"ly":0.4},
      {"pb":-10.5,"ly":-9.3},{"pb":-10.6,"ly":-8.7},{"pb":-10.5,"ly":-8.2},{"pb":-10.6,"ly":-7.6},{"pb":-10.5,"ly":-7.1},{"pb":-10.6,"ly":-6.5},{"pb":-10.5,"ly":-6.0},{"pb":-10.6,"ly":-5.4},{"pb":-10.5,"ly":-4.9},{"pb":-10.6,"ly":-4.3},{"pb":-10.5,"ly":-3.8},{"pb":-10.6,"ly":-3.2},{"pb":-10.5,"ly":-2.7},{"pb":-10.6,"ly":-2.1},{"pb":-10.5,"ly":-1.6},{"pb":-10.6,"ly":-1.0},{"pb":-10.5,"ly":-0.5},{"pb":-10.6,"ly":0.1},
      {"pb":-11.1,"ly":-9.5},{"pb":-11.0,"ly":-8.9},{"pb":-11.2,"ly":-8.4},{"pb":-11.1,"ly":-7.8},{"pb":-11.0,"ly":-7.3},{"pb":-11.1,"ly":-6.7},{"pb":-11.2,"ly":-6.2},{"pb":-11.1,"ly":-5.6},{"pb":-11.0,"ly":-5.1},{"pb":-11.1,"ly":-4.5},{"pb":-11.2,"ly":-4.0},{"pb":-11.1,"ly":-3.4},{"pb":-11.0,"ly":-2.9},{"pb":-11.1,"ly":-2.3},{"pb":-11.2,"ly":-1.8},{"pb":-11.1,"ly":-1.2},{"pb":-11.0,"ly":-0.7},{"pb":-11.1,"ly":-0.1},
      {"pb":-11.6,"ly":-9.8},{"pb":-11.7,"ly":-9.2},{"pb":-11.6,"ly":-8.7},{"pb":-11.7,"ly":-8.1},{"pb":-11.6,"ly":-7.6},{"pb":-11.7,"ly":-7.0},{"pb":-11.6,"ly":-6.5},{"pb":-11.7,"ly":-5.9},{"pb":-11.6,"ly":-5.4},{"pb":-11.7,"ly":-4.8},{"pb":-11.6,"ly":-4.3},{"pb":-11.7,"ly":-3.7},{"pb":-11.6,"ly":-3.2},{"pb":-11.7,"ly":-2.6},{"pb":-11.6,"ly":-2.1},{"pb":-11.7,"ly":-1.5},{"pb":-11.6,"ly":-1.0},{"pb":-11.7,"ly":-0.4},
      {"pb":-12.2,"ly":-10.0},{"pb":-12.1,"ly":-9.4},{"pb":-12.3,"ly":-8.9},{"pb":-12.2,"ly":-8.3},{"pb":-12.1,"ly":-7.8},{"pb":-12.2,"ly":-7.2},{"pb":-12.3,"ly":-6.7},{"pb":-12.2,"ly":-6.1},{"pb":-12.1,"ly":-5.6},{"pb":-12.2,"ly":-5.0},{"pb":-12.3,"ly":-4.5},{"pb":-12.2,"ly":-3.9},{"pb":-12.1,"ly":-3.4},{"pb":-12.2,"ly":-2.8},{"pb":-12.3,"ly":-2.3},{"pb":-12.2,"ly":-1.7},{"pb":-12.1,"ly":-1.2},{"pb":-12.2,"ly":-0.6},
      {"pb":-12.7,"ly":-10.2},{"pb":-12.8,"ly":-9.6},{"pb":-12.7,"ly":-9.1},{"pb":-12.8,"ly":-8.5},{"pb":-12.7,"ly":-8.0},{"pb":-12.8,"ly":-7.4},{"pb":-12.7,"ly":-6.9},{"pb":-12.8,"ly":-6.3},{"pb":-12.7,"ly":-5.8},{"pb":-12.8,"ly":-5.2},{"pb":-12.7,"ly":-4.7},{"pb":-12.8,"ly":-4.1},{"pb":-12.7,"ly":-3.6},{"pb":-12.8,"ly":-3.0},{"pb":-12.7,"ly":-2.5},{"pb":-12.8,"ly":-1.9},{"pb":-12.7,"ly":-1.3},
      {"pb":-13.3,"ly":-10.4},{"pb":-13.2,"ly":-9.8},{"pb":-13.4,"ly":-9.2},{"pb":-13.3,"ly":-8.6},{"pb":-13.2,"ly":-8.0},{"pb":-13.3,"ly":-7.4},{"pb":-13.4,"ly":-6.8},{"pb":-13.3,"ly":-6.2},{"pb":-13.2,"ly":-5.6},{"pb":-13.3,"ly":-5.0},{"pb":-13.4,"ly":-4.4},{"pb":-13.3,"ly":-3.8},{"pb":-13.2,"ly":-3.2},{"pb":-13.3,"ly":-2.6},{"pb":-13.4,"ly":-2.0},{"pb":-13.3,"ly":-1.4},
      {"pb":-13.9,"ly":-10.6},{"pb":-14.0,"ly":-9.9},{"pb":-13.9,"ly":-9.2},{"pb":-14.0,"ly":-8.5},{"pb":-13.9,"ly":-7.8},{"pb":-14.0,"ly":-7.1},{"pb":-13.9,"ly":-6.4},{"pb":-14.0,"ly":-5.7},{"pb":-13.9,"ly":-5.0},{"pb":-14.0,"ly":-4.3},{"pb":-13.9,"ly":-3.6},{"pb":-14.0,"ly":-2.9},{"pb":-13.9,"ly":-2.2},{"pb":-14.0,"ly":-1.6},
      {"pb":-14.6,"ly":-10.8},{"pb":-14.7,"ly":-10.0},{"pb":-14.6,"ly":-9.2},{"pb":-14.7,"ly":-8.4},{"pb":-14.6,"ly":-7.6},{"pb":-14.7,"ly":-6.8},{"pb":-14.6,"ly":-6.0},{"pb":-14.7,"ly":-5.2},{"pb":-14.6,"ly":-4.4},{"pb":-14.7,"ly":-3.6},{"pb":-14.6,"ly":-2.8},{"pb":-14.7,"ly":-2.0},
      {"pb":-15.4,"ly":-11.0},{"pb":-15.3,"ly":-10.1},{"pb":-15.5,"ly":-9.2},{"pb":-15.4,"ly":-8.3},{"pb":-15.3,"ly":-7.4},{"pb":-15.5,"ly":-6.5},{"pb":-15.4,"ly":-5.6},{"pb":-15.3,"ly":-4.7},{"pb":-15.5,"ly":-3.8},{"pb":-15.4,"ly":-2.9},
      {"pb":-16.2,"ly":-11.3},{"pb":-16.3,"ly":-10.3},{"pb":-16.2,"ly":-9.3},{"pb":-16.3,"ly":-8.3},{"pb":-16.2,"ly":-7.3},{"pb":-16.3,"ly":-6.3},{"pb":-16.2,"ly":-5.3},{"pb":-16.3,"ly":-4.3},{"pb":-16.2,"ly":-3.3},
      {"pb":-17.1,"ly":-11.4},{"pb":-17.2,"ly":-10.1},{"pb":-17.1,"ly":-8.8},{"pb":-17.2,"ly":-7.5},{"pb":-17.1,"ly":-6.2},{"pb":-17.2,"ly":-4.9},{"pb":-17.1,"ly":-3.6},
      {"pb":-18.1,"ly":-11.6},{"pb":-18.0,"ly":-10.1},{"pb":-18.2,"ly":-8.6},{"pb":-18.1,"ly":-7.1},{"pb":-18.0,"ly":-5.6},
      {"pb":-13.0,"ly":-11.6},{"pb":-12.6,"ly":-12.3},{"pb":-13.4,"ly":-12.9},{"pb":-12.2,"ly":-13.4},{"pb":-13.0,"ly":-13.6},{"pb":-12.5,"ly":-11.4},{"pb":-11.8,"ly":-11.2},{"pb":-11.4,"ly":-10.6},{"pb":-12.8,"ly":-12.8},{"pb":-6.0,"ly":-8.6},
      {"pb":-7.3,"ly":-9.0},{"pb":-9.0,"ly":-9.8},{"pb":-5.6,"ly":-8.3},{"pb":-10.4,"ly":-10.4},{"pb":-14.8,"ly":-0.5},{"pb":-16.3,"ly":-1.6},{"pb":-17.9,"ly":-2.5},{"pb":-19.1,"ly":0.2},{"pb":-20.5,"ly":-3.4},{"pb":-18.2,"ly":-1.0},
      {"pb":-32.6,"ly":-3.7},{"pb":-31.9,"ly":-10.6},{"pb":-30.8,"ly":-10.3},{"pb":-28.2,"ly":-12.5},{"pb":-29.4,"ly":-11.1},{"pb":-29.9,"ly":-15.1},{"pb":-46.4,"ly":-17.8},{"pb":-35.4,"ly":-17.7},{"pb":-42.3,"ly":-19.5},{"pb":-42.6,"ly":-21.5},
      {"pb":-41.2,"ly":-22.0},{"pb":-50.6,"ly":-22.6},{"pb":-45.4,"ly":-27.0},{"pb":-33.7,"ly":-20.1},{"pb":-30.4,"ly":-18.8},{"pb":-30.1,"ly":-19.7},{"pb":-29.2,"ly":-21.3},{"pb":-29.2,"ly":-21.3},{"pb":-28.2,"ly":-21.0},{"pb":-25.8,"ly":-21.0},
      {"pb":-25.2,"ly":-21.1},{"pb":-30.6,"ly":-23.5},{"pb":-23.4,"ly":-22.5},{"pb":-23.4,"ly":-24.0},{"pb":-26.9,"ly":-25.1},{"pb":-26.9,"ly":-25.1},{"pb":-26.2,"ly":-27.7},{"pb":-26.2,"ly":-27.7},{"pb":-25.6,"ly":-27.7},{"pb":-28.4,"ly":-28.0},
      {"pb":-32.6,"ly":-29.0},{"pb":-32.3,"ly":-32.0},{"pb":-27.8,"ly":-30.9},{"pb":-27.2,"ly":-31.3},{"pb":-25.2,"ly":-15.4},{"pb":-23.4,"ly":-16.8},{"pb":-22.6,"ly":-17.5},{"pb":-23.0,"ly":-18.4},{"pb":-20.0,"ly":-14.9},{"pb":-20.6,"ly":-16.0},
      {"pb":-18.8,"ly":-15.4},{"pb":-18.5,"ly":-17.7},{"pb":-27.6,"ly":-16.8},{"pb":-24.5,"ly":-10.5},{"pb":-23.0,"ly":-9.0},{"pb":-22.2,"ly":-11.6},{"pb":-21.5,"ly":-8.2},{"pb":-21.0,"ly":-13.0},{"pb":-20.3,"ly":-10.0},{"pb":-24.0,"ly":-13.5},
      {"pb":-25.5,"ly":-12.0},{"pb":-26.2,"ly":-8.6},{"pb":-22.8,"ly":-6.5},{"pb":-21.2,"ly":-5.2},{"pb":-20.0,"ly":-7.0},{"pb":-19.2,"ly":-13.8},{"pb":-17.5,"ly":-13.2},{"pb":-16.2,"ly":-14.0},{"pb":-15.2,"ly":-12.6},{"pb":-18.0,"ly":-14.8},
      {"pb":-23.8,"ly":-14.2},{"pb":-25.0,"ly":-17.0},{"pb":-21.8,"ly":-15.2},{"pb":-19.6,"ly":-2.8},{"pb":-22.0,"ly":-3.0},{"pb":-24.4,"ly":-6.8},{"pb":-27.0,"ly":-11.5},{"pb":-17.0,"ly":-16.2},{"pb":-14.4,"ly":-13.8},{"pb":-16.0,"ly":-12.8},
      {"pb":-20.8,"ly":-12.0},{"pb":-22.4,"ly":-13.8},{"pb":-19.8,"ly":-11.2}
    ]
  },
  "layer": [
    {
      "data": {"name": "meqtl"},
      "mark": {"type": "circle", "size": 20, "opacity": 0.4, "color": "#e41a1c"},
      "encoding": {
        "x": {"field": "pb", "type": "quantitative", "scale": {"domain": [-66.4, 64.84], "nice": false, "zero": false}, "axis": null},
        "y": {"field": "ly", "type": "quantitative", "scale": {"domain": [-62.22, 67.75], "nice": false, "zero": false}, "axis": null}
      }
    },
    {
      "data": {"values": [{}]},
      "mark": {"type": "rule", "color": "black", "strokeWidth": 1},
      "encoding": {
        "x": {"datum": -60, "type": "quantitative", "axis": null},
        "x2": {"datum": 60},
        "y": {"datum": 0, "type": "quantitative", "axis": null}
      }
    },
    {
      "data": {"values": [{}]},
      "mark": {"type": "rule", "color": "black", "strokeWidth": 1},
      "encoding": {
        "x": {"datum": 0, "type": "quantitative", "axis": null},
        "y": {"datum": -60, "type": "quantitative", "axis": null},
        "y2": {"datum": 60}
      }
    },
    {
      "data": {"values": [{"v": -60}, {"v": -40}, {"v": -20}]},
      "layer": [
        {
          "mark": {"type": "rule", "color": "black"},
          "encoding": {
            "x": {"field": "v", "type": "quantitative", "axis": null},
            "y": {"datum": 0, "type": "quantitative", "axis": null},
            "y2": {"datum": 1.55}
          }
        },
        {
          "mark": {"type": "text", "fontSize": 12, "align": "center", "baseline": "alphabetic", "dy": -13},
          "encoding": {
            "x": {"field": "v", "type": "quantitative", "axis": null},
            "y": {"datum": 0, "type": "quantitative", "axis": null},
            "text": {"field": "v", "type": "quantitative", "format": "d"}
          }
        }
      ]
    },
    {
      "data": {"values": [{"v": 20}, {"v": 40}, {"v": 60}]},
      "layer": [
        {
          "mark": {"type": "rule", "color": "black"},
          "encoding": {
            "x": {"field": "v", "type": "quantitative", "axis": null},
            "y": {"datum": 0, "type": "quantitative", "axis": null},
            "y2": {"datum": -1.55}
          }
        },
        {
          "mark": {"type": "text", "fontSize": 12, "align": "center", "baseline": "alphabetic", "dy": 24.5},
          "encoding": {
            "x": {"field": "v", "type": "quantitative", "axis": null},
            "y": {"datum": 0, "type": "quantitative", "axis": null},
            "text": {"field": "v", "type": "quantitative", "format": "d"}
          }
        }
      ]
    },
    {
      "data": {"values": [{"v": 20}, {"v": 40}, {"v": 60}]},
      "layer": [
        {
          "mark": {"type": "rule", "color": "black"},
          "encoding": {
            "y": {"field": "v", "type": "quantitative", "axis": null},
            "x": {"datum": 0, "type": "quantitative", "axis": null},
            "x2": {"datum": -1.56}
          }
        },
        {
          "mark": {"type": "text", "fontSize": 12, "align": "center", "baseline": "alphabetic", "angle": 270, "dy": -13.3},
          "encoding": {
            "y": {"field": "v", "type": "quantitative", "axis": null},
            "x": {"datum": 0, "type": "quantitative", "axis": null},
            "text": {"field": "v", "type": "quantitative", "format": "d"}
          }
        }
      ]
    },
    {
      "data": {"values": [{"v": -20}, {"v": -40}, {"v": -60}]},
      "layer": [
        {
          "mark": {"type": "rule", "color": "black"},
          "encoding": {
            "y": {"field": "v", "type": "quantitative", "axis": null},
            "x": {"datum": 0, "type": "quantitative", "axis": null},
            "x2": {"datum": 1.56}
          }
        },
        {
          "mark": {"type": "text", "fontSize": 12, "align": "center", "baseline": "alphabetic", "angle": 270, "dy": 24.5},
          "encoding": {
            "y": {"field": "v", "type": "quantitative", "axis": null},
            "x": {"datum": 0, "type": "quantitative", "axis": null},
            "text": {"field": "v", "type": "quantitative", "format": "d"}
          }
        }
      ]
    },
    {
      "data": {"values": [{}]},
      "mark": {"type": "text", "fontSize": 19, "fontWeight": "bold", "align": "center", "baseline": "alphabetic"},
      "encoding": {
        "x": {"datum": -3.25, "type": "quantitative", "axis": null},
        "y": {"datum": 65.9, "type": "quantitative", "axis": null},
        "text": {"value": "Trans-meQTLs are robust across cell types"}
      }
    },
    {
      "data": {"values": [{}]},
      "mark": {"type": "text", "fontSize": 15.5, "align": "center", "baseline": "alphabetic", "lineHeight": 17.5},
      "encoding": {
        "x": {"datum": -14.7, "type": "quantitative", "axis": null},
        "y": {"datum": 61.9, "type": "quantitative", "axis": null},
        "text": {"value": ["Normalized gene\u2212expression after", "regressing out eQTL effects"]}
      }
    },
    {
      "data": {"values": [{}]},
      "mark": {"type": "text", "fontSize": 13, "fontWeight": "bold", "color": "#777777", "align": "center", "baseline": "alphabetic", "lineHeight": 14.5},
      "encoding": {
        "x": {"datum": -37.3, "type": "quantitative", "axis": null},
        "y": {"datum": 40.4, "type": "quantitative", "axis": null},
        "text": {"value": ["94.9% of trans-meQTLs show", "consistent allelic direction"]}
      }
    },
    {
      "data": {"values": [{}]},
      "mark": {"type": "text", "fontSize": 13, "fontWeight": "bold", "color": "#777777", "align": "center", "baseline": "alphabetic"},
      "encoding": {
        "x": {"datum": 40.15, "type": "quantitative", "axis": null},
        "y": {"datum": 37.4, "type": "quantitative", "axis": null},
        "text": {"value": "r\u00b2 = 0.74"}
      }
    },
    {
      "data": {"values": [{}]},
      "mark": {"type": "text", "fontSize": 12, "fontWeight": "bold", "align": "center", "baseline": "alphabetic", "lineHeight": 14},
      "encoding": {
        "x": {"datum": 40.15, "type": "quantitative", "axis": null},
        "y": {"datum": -10.5, "type": "quantitative", "axis": null},
        "text": {"value": ["Significant trans-meQTL effects", "in peripheral blood (Z-score)"]}
      }
    },
    {
      "data": {"values": [{}]},
      "mark": {"type": "text", "fontSize": 12, "fontWeight": "bold", "align": "center", "baseline": "alphabetic", "angle": 270, "lineHeight": 13.5},
      "encoding": {
        "x": {"datum": -7.07, "type": "quantitative", "axis": null},
        "y": {"datum": -38.45, "type": "quantitative", "axis": null},
        "text": {"value": ["Trans-meQTLs in", "lymphocytes (Z-score)"]}
      }
    }
  ]
}
